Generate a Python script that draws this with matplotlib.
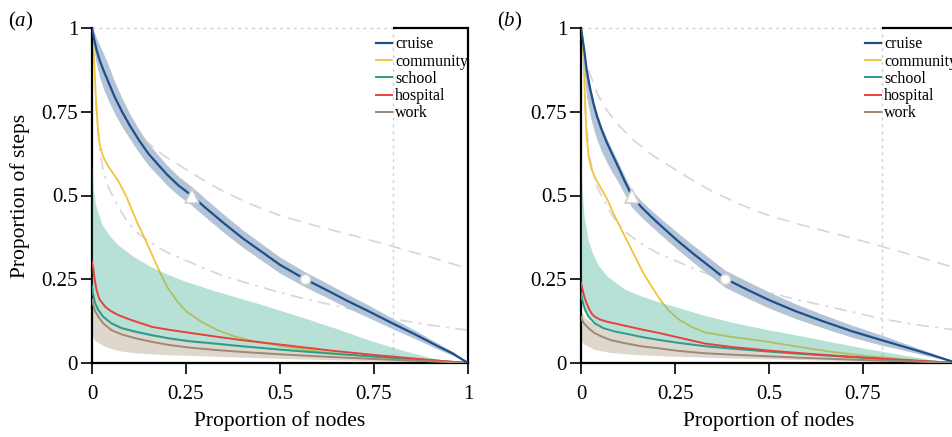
import matplotlib
matplotlib.use("Agg")
import matplotlib.pyplot as plt

plt.rcParams['font.family'] = ['Liberation Serif', 'DejaVu Serif']
plt.rcParams['mathtext.fontset'] = 'custom'
plt.rcParams['mathtext.rm'] = 'Liberation Serif'
plt.rcParams['mathtext.it'] = 'Liberation Serif:italic'

# ---------------- data: panel (a) ----------------
cruise_a_x = [0, 0.005, 0.012, 0.02, 0.03, 0.045, 0.06, 0.08, 0.1, 0.125, 0.15, 0.175, 0.2, 0.23, 0.265,
              0.3, 0.35, 0.4, 0.45, 0.5, 0.567, 0.62, 0.68, 0.74, 0.8, 0.86, 0.92, 0.96, 1.0]
cruise_a_y = [1.0, 0.97, 0.935, 0.905, 0.875, 0.835, 0.795, 0.75, 0.71, 0.665, 0.625, 0.593, 0.562, 0.53, 0.5,
              0.465, 0.418, 0.373, 0.333, 0.293, 0.25, 0.22, 0.185, 0.152, 0.118, 0.085, 0.05, 0.028, 0.0]
cruise_a_hi = [1.0, 0.99, 0.97, 0.95, 0.925, 0.885, 0.84, 0.79, 0.745, 0.697, 0.655, 0.622, 0.59, 0.557, 0.527,
               0.492, 0.444, 0.398, 0.357, 0.316, 0.272, 0.241, 0.205, 0.17, 0.133, 0.097, 0.059, 0.034, 0.0]
cruise_a_lo = [1.0, 0.94, 0.89, 0.855, 0.82, 0.78, 0.745, 0.705, 0.67, 0.628, 0.59, 0.56, 0.53, 0.5, 0.471,
               0.437, 0.39, 0.346, 0.307, 0.268, 0.227, 0.198, 0.164, 0.133, 0.102, 0.072, 0.041, 0.022, 0.0]

community_a_x = [0, 0.003, 0.006, 0.009, 0.012, 0.015, 0.018, 0.021, 0.03, 0.043, 0.055, 0.07, 0.08, 0.092,
                 0.105, 0.12, 0.137, 0.155, 0.17, 0.181, 0.2, 0.226, 0.25, 0.288, 0.33, 0.377, 0.43, 0.51,
                 0.58, 0.644, 0.75, 0.85, 0.93, 1.0]
community_a_y = [1.0, 0.96, 0.9, 0.82, 0.76, 0.71, 0.675, 0.65, 0.615, 0.588, 0.568, 0.543, 0.522, 0.495,
                 0.46, 0.42, 0.38, 0.335, 0.297, 0.27, 0.227, 0.185, 0.155, 0.125, 0.1, 0.08, 0.065, 0.049,
                 0.038, 0.029, 0.018, 0.01, 0.004, 0.0]

school_a_x = [0, 0.003, 0.008, 0.017, 0.03, 0.052, 0.08, 0.115, 0.16, 0.203, 0.26, 0.328, 0.4, 0.5, 0.6,
              0.7, 0.8, 0.9, 1.0]
school_a_y = [0.23, 0.205, 0.18, 0.158, 0.138, 0.118, 0.104, 0.094, 0.083, 0.074, 0.065, 0.058, 0.05, 0.04,
              0.031, 0.023, 0.015, 0.008, 0.0]
school_band_a_x = [0, 0.003, 0.01, 0.026, 0.048, 0.07, 0.11, 0.159, 0.2, 0.248, 0.328, 0.377, 0.45, 0.555,
                   0.65, 0.733, 0.82, 0.9, 0.96, 1.0]
school_band_a_hi = [0.61, 0.52, 0.47, 0.415, 0.378, 0.352, 0.318, 0.286, 0.265, 0.244, 0.215, 0.199, 0.175,
                    0.138, 0.103, 0.07, 0.04, 0.016, 0.004, 0.0]
school_band_a_lo = [0.22, 0.19, 0.162, 0.138, 0.118, 0.104, 0.091, 0.08, 0.072, 0.064, 0.055, 0.05, 0.044,
                    0.035, 0.028, 0.022, 0.014, 0.007, 0.003, 0.0]

hospital_a_x = [0, 0.003, 0.007, 0.012, 0.02, 0.035, 0.05, 0.07, 0.1, 0.159, 0.2, 0.248, 0.328, 0.4, 0.5,
                0.644, 0.75, 0.85, 0.93, 1.0]
hospital_a_y = [0.3, 0.285, 0.25, 0.218, 0.19, 0.168, 0.155, 0.143, 0.13, 0.108, 0.1, 0.092, 0.079, 0.068,
                0.055, 0.036, 0.024, 0.014, 0.006, 0.0]

work_a_x = [0, 0.003, 0.008, 0.017, 0.03, 0.052, 0.08, 0.115, 0.16, 0.203, 0.26, 0.328, 0.4, 0.5, 0.6,
            0.75, 0.9, 1.0]
work_a_y = [0.19, 0.175, 0.155, 0.138, 0.118, 0.098, 0.085, 0.074, 0.063, 0.054, 0.046, 0.039, 0.033, 0.026,
            0.02, 0.012, 0.005, 0.0]
work_band_a_x = [0, 0.003, 0.01, 0.035, 0.07, 0.115, 0.2, 0.328, 0.5, 0.7, 0.9, 1.0]
work_band_a_lo = [0.08, 0.075, 0.065, 0.049, 0.037, 0.03, 0.025, 0.02, 0.014, 0.008, 0.003, 0.0]
work_band_a_hi = [0.215, 0.2, 0.172, 0.135, 0.11, 0.094, 0.076, 0.058, 0.04, 0.024, 0.008, 0.0]

marker_a_x = [0.265, 0.567]

# ---------------- data: panel (b) ----------------
cruise_b_x = [0, 0.004, 0.009, 0.015, 0.024, 0.033, 0.043, 0.055, 0.068, 0.082, 0.1, 0.115, 0.135, 0.16,
              0.19, 0.225, 0.26, 0.3, 0.34, 0.383, 0.44, 0.5, 0.57, 0.64, 0.72, 0.8, 0.87, 0.93, 1.0]
cruise_b_y = [1.0, 0.97, 0.93, 0.875, 0.82, 0.775, 0.735, 0.696, 0.66, 0.626, 0.583, 0.546, 0.5, 0.466,
              0.433, 0.397, 0.362, 0.325, 0.29, 0.252, 0.22, 0.188, 0.155, 0.126, 0.095, 0.068, 0.045,
              0.025, 0.0]
cruise_b_hi = [1.0, 0.975, 0.94, 0.885, 0.83, 0.785, 0.745, 0.706, 0.672, 0.638, 0.597, 0.561, 0.516,
               0.484, 0.453, 0.419, 0.386, 0.35, 0.315, 0.277, 0.245, 0.212, 0.177, 0.146, 0.113, 0.083,
               0.055, 0.031, 0.0]
cruise_b_lo = [1.0, 0.93, 0.86, 0.795, 0.74, 0.7, 0.665, 0.631, 0.6, 0.571, 0.538, 0.506, 0.465, 0.436,
               0.405, 0.37, 0.336, 0.299, 0.264, 0.226, 0.195, 0.164, 0.133, 0.106, 0.077, 0.053, 0.035,
               0.019, 0.0]

community_b_x = [0, 0.002, 0.004, 0.006, 0.009, 0.011, 0.013, 0.015, 0.02, 0.028, 0.04, 0.055, 0.07, 0.09,
                 0.11, 0.13, 0.144, 0.165, 0.188, 0.21, 0.232, 0.26, 0.294, 0.33, 0.4, 0.494, 0.58, 0.662,
                 0.75, 0.85, 0.93, 1.0]
community_b_y = [1.0, 0.97, 0.95, 0.925, 0.85, 0.775, 0.72, 0.676, 0.62, 0.578, 0.548, 0.518, 0.488, 0.438,
                 0.393, 0.348, 0.317, 0.27, 0.228, 0.19, 0.158, 0.13, 0.108, 0.091, 0.078, 0.064, 0.048,
                 0.034, 0.022, 0.012, 0.005, 0.0]

school_b_x = [0, 0.003, 0.007, 0.011, 0.02, 0.037, 0.06, 0.09, 0.117, 0.16, 0.206, 0.26, 0.33, 0.4, 0.5,
              0.6, 0.7, 0.8, 0.9, 1.0]
school_b_y = [0.208, 0.19, 0.172, 0.158, 0.138, 0.118, 0.104, 0.094, 0.088, 0.078, 0.069, 0.06, 0.05,
              0.043, 0.034, 0.026, 0.019, 0.012, 0.006, 0.0]
school_band_b_x = [0, 0.003, 0.008, 0.019, 0.03, 0.046, 0.07, 0.117, 0.16, 0.206, 0.26, 0.32, 0.4, 0.494,
                   0.58, 0.662, 0.75, 0.85, 0.93, 1.0]
school_band_b_hi = [0.62, 0.52, 0.44, 0.367, 0.33, 0.292, 0.259, 0.22, 0.2, 0.183, 0.165, 0.145, 0.122, 0.1,
                    0.082, 0.064, 0.045, 0.025, 0.01, 0.0]
school_band_b_lo = [0.2, 0.18, 0.165, 0.138, 0.125, 0.115, 0.104, 0.088, 0.078, 0.069, 0.06, 0.052, 0.043,
                    0.035, 0.028, 0.022, 0.016, 0.009, 0.004, 0.0]

hospital_b_x = [0, 0.003, 0.007, 0.011, 0.015, 0.022, 0.03, 0.037, 0.05, 0.07, 0.09, 0.13, 0.17, 0.206,
                0.26, 0.33, 0.4, 0.5, 0.6, 0.7, 0.8, 0.9, 1.0]
hospital_b_y = [0.24, 0.225, 0.205, 0.19, 0.178, 0.16, 0.145, 0.138, 0.13, 0.123, 0.118, 0.108, 0.098,
                0.09, 0.076, 0.058, 0.048, 0.037, 0.028, 0.02, 0.013, 0.006, 0.0]

work_b_x = [0, 0.003, 0.008, 0.019, 0.035, 0.055, 0.08, 0.117, 0.16, 0.206, 0.26, 0.33, 0.4, 0.5, 0.6,
            0.75, 0.9, 1.0]
work_b_y = [0.138, 0.128, 0.118, 0.105, 0.09, 0.079, 0.068, 0.059, 0.05, 0.044, 0.036, 0.029, 0.025, 0.02,
            0.015, 0.009, 0.004, 0.0]
work_band_b_x = [0, 0.003, 0.01, 0.037, 0.08, 0.15, 0.25, 0.4, 0.6, 0.8, 1.0]
work_band_b_lo = [0.069, 0.062, 0.055, 0.04, 0.031, 0.025, 0.02, 0.015, 0.01, 0.005, 0.0]
work_band_b_hi = [0.16, 0.15, 0.135, 0.115, 0.095, 0.08, 0.064, 0.048, 0.03, 0.016, 0.0]

marker_b_x = [0.135, 0.383]

# ---------------- reference curves (both panels) ----------------
ref_dash_x = [0.02, 0.045, 0.07, 0.1, 0.14, 0.19, 0.25, 0.3, 0.35, 0.42, 0.5, 0.6, 0.7, 0.8, 0.9, 1.0]
ref_dash_y = [0.875, 0.8, 0.752, 0.71, 0.665, 0.62, 0.578, 0.543, 0.512, 0.475, 0.44, 0.408, 0.379, 0.348,
              0.316, 0.282]
ref_dashdot_x = [0.01, 0.015, 0.021, 0.03, 0.043, 0.06, 0.08, 0.097, 0.125, 0.159, 0.2, 0.248, 0.3, 0.35,
                 0.42, 0.492, 0.57, 0.661, 0.73, 0.808, 0.9, 1.0]
ref_dashdot_y = [0.78, 0.71, 0.63, 0.575, 0.526, 0.488, 0.447, 0.417, 0.385, 0.357, 0.33, 0.307, 0.282,
                 0.26, 0.236, 0.213, 0.19, 0.168, 0.15, 0.13, 0.113, 0.098]

marker_y = [0.5, 0.25]
cutoff_x = 0.8

ticks = [0, 0.25, 0.5, 0.75, 1]
tick_labels = ['0', '0.25', '0.5', '0.75', '1']
labels = ['cruise', 'community', 'school', 'hospital', 'work']

C_CRUISE = '#1f4e8c'
C_CRUISE_BAND = '#b4c4d7'
C_COMM = '#f2c43a'
C_SCHOOL = '#2a9d8a'
C_SCHOOL_BAND = '#4db69d'
C_HOSP = '#e8413a'
C_WORK = '#9c8876'
C_WORK_BAND = '#ddd7cd'
C_REF = '#d9d9d9'

W, H = 953, 437
fig = plt.figure(figsize=(W / 100, H / 100), dpi=100)

panels = [
    dict(left=92, tag='a', cx=cruise_a_x, cy=cruise_a_y, chi=cruise_a_hi, clo=cruise_a_lo,
         comx=community_a_x, comy=community_a_y, sx=school_a_x, sy=school_a_y,
         sbx=school_band_a_x, sbh=school_band_a_hi, sbl=school_band_a_lo,
         hx=hospital_a_x, hy=hospital_a_y, wx=work_a_x, wy=work_a_y,
         wbx=work_band_a_x, wbh=work_band_a_hi, wbl=work_band_a_lo, mx=marker_a_x, ylabel=True, nx=5),
    dict(left=581, tag='b', cx=cruise_b_x, cy=cruise_b_y, chi=cruise_b_hi, clo=cruise_b_lo,
         comx=community_b_x, comy=community_b_y, sx=school_b_x, sy=school_b_y,
         sbx=school_band_b_x, sbh=school_band_b_hi, sbl=school_band_b_lo,
         hx=hospital_b_x, hy=hospital_b_y, wx=work_b_x, wy=work_b_y,
         wbx=work_band_b_x, wbh=work_band_b_hi, wbl=work_band_b_lo, mx=marker_b_x, ylabel=False, nx=4),
]

FS = 15
for p in panels:
    ax = fig.add_axes([p['left'] / W, 74 / H, 376 / W, 335 / H])
    ax.set_xlim(0, 1)
    ax.set_ylim(0, 1)

    # guide lines
    ax.plot([0, cutoff_x], [1, 1], color='#cfcfcf', lw=1.0, ls=(0, (2, 3)), zorder=1, clip_on=False)
    ax.plot([cutoff_x, cutoff_x], [0, 1], color='#cfcfcf', lw=1.0, ls=(0, (2, 3)), zorder=1)
    ax.plot([cutoff_x, 1], [1, 1], color='black', lw=1.6, zorder=6, clip_on=False,
            solid_capstyle='butt')

    ax.plot(ref_dash_x, ref_dash_y, color=C_REF, lw=1.3, ls=(0, (7, 4.5)), zorder=1.5)
    ax.plot(ref_dashdot_x, ref_dashdot_y, color=C_REF, lw=1.3, ls=(0, (7, 3.5, 1.5, 3.5)), zorder=1.5)

    # bands
    ax.fill_between(p['wbx'], p['wbl'], p['wbh'], color=C_WORK_BAND, lw=0, zorder=2)
    ax.plot(p['comx'], p['comy'], color=C_COMM, lw=1.3, zorder=2.5)
    ax.fill_between(p['sbx'], p['sbl'], p['sbh'], color=C_SCHOOL_BAND, alpha=0.4, lw=0, zorder=3)
    ax.fill_between(p['cx'], p['clo'], p['chi'], color=C_CRUISE_BAND, lw=0, zorder=3)

    # lines
    l1, = ax.plot(p['cx'], p['cy'], color=C_CRUISE, lw=1.6, zorder=5)
    l2, = ax.plot([], [], color=C_COMM, lw=1.3)
    l3, = ax.plot(p['sx'], p['sy'], color=C_SCHOOL, lw=1.4, zorder=4)
    l4, = ax.plot(p['hx'], p['hy'], color=C_HOSP, lw=1.4, zorder=4)
    l5, = ax.plot(p['wx'], p['wy'], color=C_WORK, lw=1.4, zorder=4)

    ax.plot(p['mx'][0], marker_y[0], marker='^', ms=10, mfc='white', mec='#d0d0d0', mew=1.2, zorder=6)
    ax.plot(p['mx'][1], marker_y[1], marker='o', ms=7.5, mfc='white', mec='#d0d0d0', mew=1.2, zorder=6)

    ax.legend([l1, l2, l3, l4, l5], labels, loc='upper left', bbox_to_anchor=(0.755, 0.975),
              frameon=False, fontsize=11.5, handlelength=1.0, handletextpad=0.2,
              labelspacing=0.08, borderpad=0, borderaxespad=0)

    for s in ['left', 'bottom', 'right']:
        ax.spines[s].set_linewidth(1.6)
    ax.spines['top'].set_visible(False)

    ax.set_xticks(ticks[:p['nx']])
    ax.set_xticklabels(tick_labels[:p['nx']])
    ax.set_yticks(ticks)
    ax.set_yticklabels(tick_labels)
    ax.tick_params(direction='out', length=8, width=1.2, labelsize=FS)
    ax.tick_params(axis='x', pad=8)
    ax.tick_params(axis='y', pad=2)

    ax.set_xlabel('Proportion of nodes', fontsize=15.5)
    ax.xaxis.set_label_coords(0.5, -0.145)
    if p['ylabel']:
        ax.set_ylabel('Proportion of steps', fontsize=15.5)
        ax.yaxis.set_label_coords(-0.165, 0.5)

    fig.text((p['left'] - 84) / W, 1 - 21 / H, '($\\mathit{%s}$)' % p['tag'], fontsize=15,
             ha='left', va='center')

fig.savefig('out.png', dpi=100)
